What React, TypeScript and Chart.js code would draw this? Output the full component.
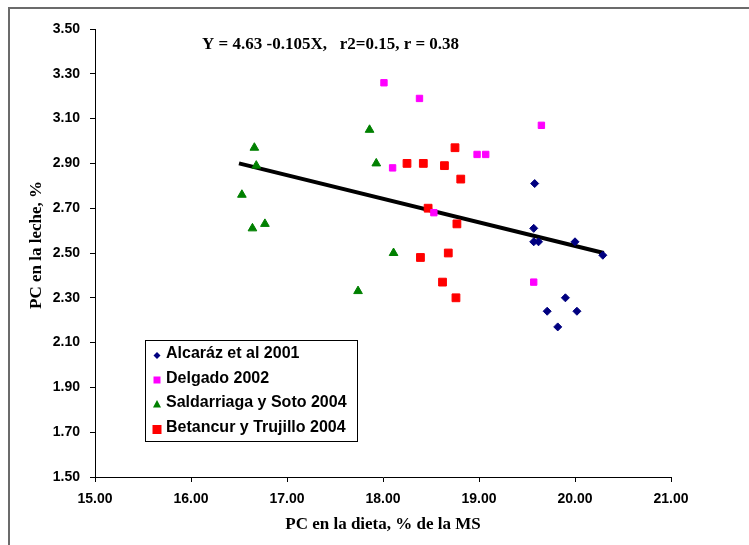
import React, { useEffect, useRef } from "react";
import { Chart, registerables } from "chart.js";

Chart.register(...registerables);

// ---- data ----
const seriesNames = [
  "Alcaráz et al 2001",
  "Delgado 2002",
  "Saldarriaga y Soto 2004",
  "Betancur y Trujillo 2004",
];

const alcarazX = [19.58, 19.57, 19.57, 19.62, 20.0, 20.29, 19.9, 19.71, 20.02, 19.82];
const alcarazY = [2.81, 2.61, 2.55, 2.55, 2.55, 2.49, 2.3, 2.24, 2.24, 2.17];

const delgadoX = [18.01, 18.38, 18.98, 19.07, 18.1, 18.53, 19.65, 19.57];
const delgadoY = [3.26, 3.19, 2.94, 2.94, 2.88, 2.68, 3.07, 2.37];

const saldarriagaX = [17.86, 17.93, 18.11, 17.74, 16.66, 16.68, 16.53, 16.77, 16.64];
const saldarriagaY = [3.05, 2.9, 2.5, 2.33, 2.97, 2.89, 2.76, 2.63, 2.61];

const betancurX = [18.75, 18.25, 18.42, 18.64, 18.81, 18.47, 18.77, 18.68, 18.39, 18.62, 18.76];
const betancurY = [2.97, 2.9, 2.9, 2.89, 2.83, 2.7, 2.63, 2.5, 2.48, 2.37, 2.3];

const trendX = [16.5, 20.3];
const trendY = [2.9, 2.5];

const xMin = 15;
const xMax = 21;
const xStep = 1;
const yMin = 1.5;
const yMax = 3.5;
const yStep = 0.2;

const equationText = "Y = 4.63 -0.105X,   r2=0.15, r = 0.38";
const xTitle = "PC en la dieta, % de la MS";
const yTitle = "PC en la leche, %";

const toPoints = (xs: number[], ys: number[]) => xs.map((x, i) => ({ x, y: ys[i] }));

const COLORS = ["#000080", "#FF00FF", "#008000", "#FF0000"];

function drawMarker(ctx: CanvasRenderingContext2D, kind: number, x: number, y: number) {
  ctx.save();
  ctx.fillStyle = COLORS[kind];
  ctx.beginPath();
  if (kind === 0) {
    const r = 3.5;
    ctx.moveTo(x - r, y);
    ctx.lineTo(x, y - r);
    ctx.lineTo(x + r, y);
    ctx.lineTo(x, y + r);
    ctx.closePath();
  } else if (kind === 1) {
    ctx.rect(x - 3.5, y - 3.5, 7, 7);
  } else if (kind === 2) {
    ctx.moveTo(x, y - 4.5);
    ctx.lineTo(x + 4, y + 3);
    ctx.lineTo(x - 4, y + 3);
    ctx.closePath();
  } else {
    ctx.rect(x - 4.5, y - 4.5, 9, 9);
  }
  ctx.fill();
  ctx.restore();
}

const decorPlugin = {
  id: "decor",
  beforeDraw(chart: any) {
    const ctx = chart.ctx as CanvasRenderingContext2D;
    ctx.save();
    ctx.fillStyle = "#ffffff";
    ctx.fillRect(0, 0, chart.width, chart.height);
    ctx.strokeStyle = "#6b6b6b";
    ctx.lineWidth = 2;
    ctx.beginPath();
    ctx.moveTo(9, chart.height + 5);
    ctx.lineTo(9, 8);
    ctx.lineTo(chart.width + 5, 8);
    ctx.stroke();
    ctx.restore();
  },
  afterDraw(chart: any) {
    const ctx = chart.ctx as CanvasRenderingContext2D;
    const area = chart.chartArea;
    ctx.save();
    // equation
    ctx.fillStyle = "#000";
    ctx.font = "bold 17px 'Liberation Serif', 'Times New Roman', serif";
    ctx.textBaseline = "middle";
    ctx.textAlign = "left";
    ctx.fillText(equationText, 202, 45);

    // x title
    ctx.textAlign = "center";
    ctx.fillText(xTitle, (area.left + area.right) / 2, 525);

    // y title
    ctx.save();
    ctx.translate(37, 245);
    ctx.rotate(-Math.PI / 2);
    ctx.fillText(yTitle, 0, 0);
    ctx.restore();

    // legend box
    const lx = 145.5;
    const ly = 340.5;
    const lw = 212;
    const lh = 101;
    ctx.fillStyle = "#fff";
    ctx.fillRect(lx, ly, lw, lh);
    ctx.strokeStyle = "#000";
    ctx.lineWidth = 1;
    ctx.strokeRect(lx, ly, lw, lh);
    const rows = [354, 378.5, 403, 428];
    ctx.font = "bold 16px 'Liberation Sans', Arial, sans-serif";
    ctx.textAlign = "left";
    ctx.textBaseline = "middle";
    seriesNames.forEach((name, i) => {
      drawMarker(ctx, i, 157, rows[i] + 1.5);
      ctx.fillStyle = "#000";
      ctx.fillText(name, 166, rows[i]);
    });
    ctx.restore();
  },
};

export default function App() {
  const canvasRef = useRef<HTMLCanvasElement | null>(null);

  useEffect(() => {
    const canvas = canvasRef.current;
    if (!canvas) return;
    const tickFont = { family: "'Liberation Sans', Arial, sans-serif", size: 14, weight: "bold" as const };

    const chart = new Chart(canvas, {
      type: "scatter",
      data: {
        datasets: [
          {
            label: seriesNames[0],
            data: toPoints(alcarazX, alcarazY),
            pointStyle: "rectRot",
            pointRadius: 4,
            backgroundColor: COLORS[0],
            borderColor: COLORS[0],
            borderWidth: 1,
            order: 1,
          },
          {
            label: seriesNames[1],
            data: toPoints(delgadoX, delgadoY),
            pointStyle: "rect",
            pointRadius: 4.5,
            backgroundColor: COLORS[1],
            borderColor: COLORS[1],
            borderWidth: 1,
            order: 1,
          },
          {
            label: seriesNames[2],
            data: toPoints(saldarriagaX, saldarriagaY),
            pointStyle: "triangle",
            pointRadius: 5,
            backgroundColor: COLORS[2],
            borderColor: COLORS[2],
            borderWidth: 1,
            order: 1,
          },
          {
            label: seriesNames[3],
            data: toPoints(betancurX, betancurY),
            pointStyle: "rect",
            pointRadius: 5.5,
            backgroundColor: COLORS[3],
            borderColor: COLORS[3],
            borderWidth: 1,
            order: 1,
          },
          {
            label: "trend",
            type: "line" as const,
            data: toPoints(trendX, trendY),
            showLine: true,
            pointRadius: 0,
            borderColor: "#000",
            borderWidth: 4,
            fill: false,
            order: 10,
          } as any,
        ],
      },
      options: {
        responsive: false,
        animation: false,
        devicePixelRatio: 1,
        layout: { padding: { left: 0, top: 29, right: 78, bottom: 0 } },
        plugins: {
          legend: { display: false },
          tooltip: { enabled: false },
          title: { display: false },
        },
        scales: {
          x: {
            type: "linear",
            min: xMin,
            max: xMax,
            afterFit: (s: any) => {
              s.height = 68;
            },
            ticks: {
              stepSize: xStep,
              font: tickFont,
              color: "#000",
              padding: 9,
              maxRotation: 0,
              callback: (v: any) => Number(v).toFixed(2),
            },
            grid: {
              drawOnChartArea: false,
              drawTicks: true,
              tickLength: 5,
              color: "#000",
            },
            border: { display: true, color: "#000", width: 1 },
          },
          y: {
            type: "linear",
            min: yMin,
            max: yMax,
            afterFit: (s: any) => {
              s.width = 95;
            },
            ticks: {
              stepSize: yStep,
              font: tickFont,
              color: "#000",
              padding: 10,
              callback: (v: any) => Number(v).toFixed(2),
            },
            grid: {
              drawOnChartArea: false,
              drawTicks: true,
              tickLength: 5,
              color: "#000",
            },
            border: { display: true, color: "#000", width: 1 },
          },
        },
      },
      plugins: [decorPlugin],
    });

    return () => {
      chart.destroy();
    };
  }, []);

  return (
    <div style={{ position: "fixed", left: 0, top: 0, width: 749, height: 545, background: "#fff" }}>
      <canvas ref={canvasRef} width={749} height={545} style={{ display: "block" }} />
    </div>
  );
}
